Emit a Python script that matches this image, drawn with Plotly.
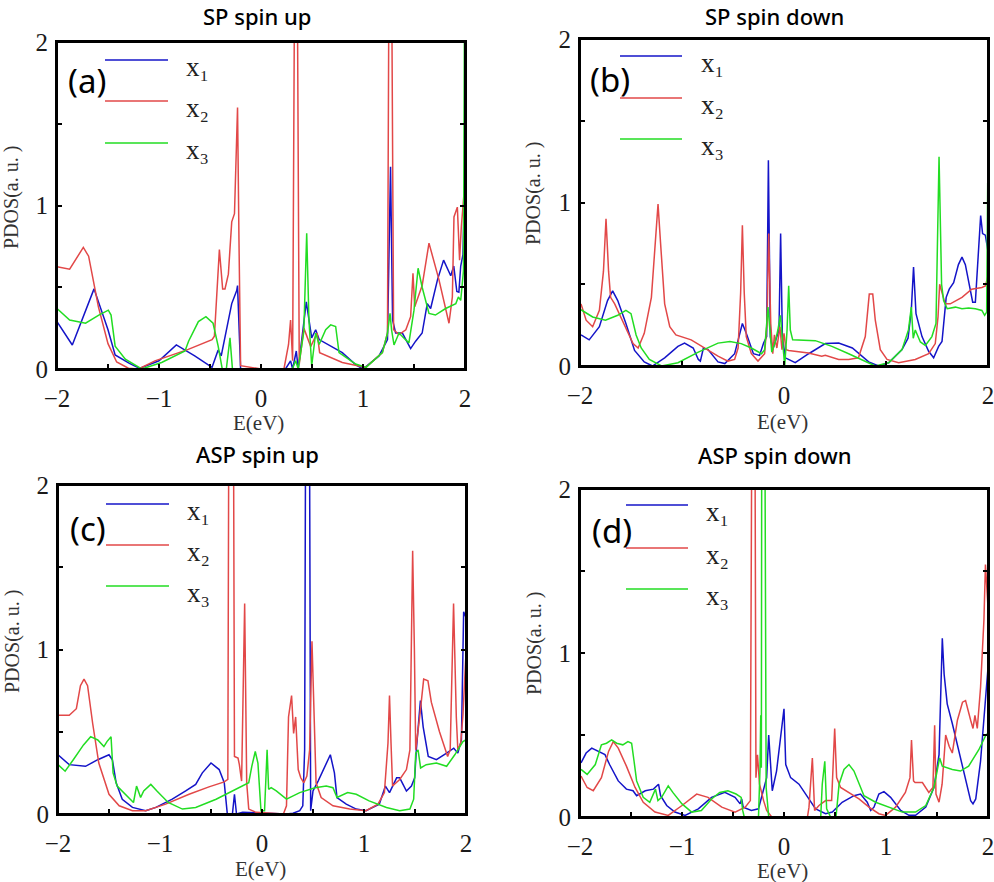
import plotly.graph_objects as go

# ---------------- data (E in eV, PDOS in a.u.) ----------------
# Panel (a) SP spin up
a_x1 = [(-2.0,0.29),(-1.85,0.147),(-1.637,0.49),(-1.5,0.24),(-1.43,0.086),(-1.29,0.034),(-1.19,0.004),(-1.0,0.05),
        (-0.83,0.147),(-0.65,0.08),(-0.48,0.01),(-0.42,0.116),(-0.39,0.08),(-0.287,0.40),(-0.238,0.48),(-0.23,0.51),
        (-0.2,0.0),(0.0,0.0),(0.24,0.0),(0.29,0.05),(0.31,0.0),(0.346,0.11),(0.365,0.0),(0.444,0.41),(0.497,0.19),
        (0.536,0.24),(0.57,0.18),(0.797,0.10),(0.93,0.025),(1.0,0.0),(1.157,0.08),(1.24,0.18),(1.27,1.237),(1.29,0.30),
        (1.32,0.22),(1.386,0.22),(1.467,0.125),(1.516,0.17),(1.58,0.22),(1.63,0.40),(1.663,0.37),(1.73,0.545),
        (1.79,0.666),(1.86,0.57),(1.89,0.63),(1.92,0.474),(1.94,0.47),(1.958,0.63),(1.98,0.7),(2.0,1.25)]
a_x2 = [(-2.0,0.626),(-1.876,0.61),(-1.742,0.744),(-1.69,0.69),(-1.594,0.38),(-1.5,0.155),(-1.415,0.043),(-1.3,0.005),
        (-1.2,0.0),(-1.04,0.05),(-0.713,0.12),(-0.48,0.18),(-0.457,0.2),(-0.424,0.544),(-0.408,0.73),(-0.376,0.49),
        (-0.353,0.49),(-0.32,0.58),(-0.287,0.90),(-0.26,0.95),(-0.23,1.60),(-0.216,0.79),(-0.2,0.02),(0.0,0.0),
        (0.225,0.0),(0.27,0.15),(0.29,0.30),(0.31,0.05),(0.33,2.5),(0.355,2.5),(0.375,0.03),(0.42,0.25),(0.487,0.137),
        (0.55,0.22),(0.575,0.1),(0.797,0.04),(1.027,0.01),(1.19,0.1),(1.24,0.22),(1.255,2.5),(1.28,2.5),(1.30,0.24),
        (1.353,0.21),(1.42,0.24),(1.467,0.32),(1.49,0.585),(1.507,0.38),(1.58,0.51),(1.647,0.77),(1.745,0.545),
        (1.843,0.28),(1.876,0.44),(1.892,0.93),(1.925,0.99),(1.947,0.666),(1.964,0.87),(2.0,1.15)]
a_x3 = [(-2.0,0.37),(-1.876,0.30),(-1.72,0.28),(-1.59,0.33),(-1.497,0.36),(-1.47,0.33),(-1.43,0.14),(-1.33,0.06),
        (-1.17,0.0),(-0.974,0.04),(-0.745,0.11),(-0.71,0.17),(-0.614,0.29),(-0.54,0.32),(-0.47,0.28),(-0.42,0.14),
        (-0.38,0.0),(-0.34,0.0),(-0.304,0.19),(-0.28,0.0),(0.0,0.0),(0.307,0.0),(0.34,0.05),(0.365,0.0),(0.42,0.23),
        (0.448,0.83),(0.47,0.30),(0.497,0.02),(0.536,0.22),(0.57,0.15),(0.634,0.24),(0.683,0.27),(0.732,0.26),
        (0.765,0.10),(0.928,0.03),(1.03,0.01),(1.19,0.1),(1.24,0.22),(1.265,0.34),(1.28,0.24),(1.304,0.147),
        (1.353,0.22),(1.40,0.19),(1.45,0.16),(1.5,0.36),(1.54,0.616),(1.58,0.5),(1.647,0.34),(1.71,0.33),
        (1.81,0.37),(1.91,0.40),(1.935,0.44),(1.958,0.42),(1.985,0.6),(1.997,2.5)]

# Panel (b) SP spin down
b_x1 = [(-1.99,0.19),(-1.91,0.16),(-1.81,0.24),(-1.73,0.40),(-1.68,0.459),(-1.63,0.40),(-1.55,0.26),(-1.465,0.095),
        (-1.37,0.025),(-1.29,0.0),(-1.17,0.05),(-1.04,0.12),(-0.975,0.14),(-0.89,0.11),(-0.84,0.04),(-0.82,0.03),
        (-0.79,0.11),(-0.745,0.10),(-0.647,0.025),(-0.58,0.015),(-0.484,0.075),(-0.408,0.26),(-0.37,0.20),
        (-0.30,0.075),(-0.24,0.065),(-0.20,0.14),(-0.17,0.18),(-0.153,1.258),(-0.134,0.18),(-0.11,0.1),
        (-0.075,0.17),(-0.049,0.22),(-0.033,0.81),(-0.016,0.18),(0.013,0.05),(0.11,0.02),(0.242,0.075),
        (0.405,0.137),(0.536,0.14),(0.67,0.11),(0.83,0.025),(0.928,0.0),(1.026,0.02),(1.157,0.10),(1.216,0.17),
        (1.248,0.34),(1.27,0.605),(1.294,0.32),(1.353,0.18),(1.418,0.09),(1.467,0.05),(1.516,0.12),(1.549,0.15),
        (1.59,0.42),(1.62,0.47),(1.663,0.51),(1.71,0.62),(1.745,0.666),(1.778,0.62),(1.81,0.51),(1.85,0.39),
        (1.876,0.39),(1.908,0.77),(1.928,0.92),(1.947,0.81),(1.974,0.80),(2.0,0.7)]
b_x2 = [(-1.99,0.38),(-1.94,0.28),(-1.876,0.24),(-1.81,0.34),(-1.77,0.58),(-1.745,0.90),(-1.72,0.58),(-1.70,0.42),
        (-1.66,0.38),(-1.63,0.34),(-1.56,0.24),(-1.48,0.137),(-1.43,0.11),(-1.37,0.20),(-1.30,0.42),(-1.26,0.79),
        (-1.235,0.99),(-1.21,0.75),(-1.17,0.38),(-1.12,0.24),(-1.06,0.19),(-0.91,0.16),(-0.78,0.11),(-0.647,0.06),
        (-0.55,0.03),(-0.484,0.04),(-0.45,0.11),(-0.425,0.45),(-0.408,0.86),(-0.39,0.45),(-0.37,0.18),(-0.32,0.075),
        (-0.255,0.03),(-0.19,0.075),(-0.167,0.26),(-0.15,0.81),(-0.13,0.26),(-0.11,0.075),(-0.094,0.19),
        (-0.07,0.11),(-0.04,0.24),(-0.02,0.10),(0.0,0.2),(0.02,0.1),(0.046,0.095),(0.24,0.08),(0.37,0.06),
        (0.405,0.065),(0.536,0.04),(0.634,0.04),(0.73,0.05),(0.797,0.18),(0.836,0.44),(0.87,0.44),(0.895,0.28),
        (0.944,0.10),(1.01,0.04),(1.124,0.02),(1.287,0.04),(1.418,0.075),(1.483,0.137),(1.51,0.30),(1.526,0.50),
        (1.55,0.44),(1.58,0.38),(1.63,0.38),(1.745,0.42),(1.84,0.47),(1.94,0.48),(1.974,0.49),(2.0,0.55)]
b_x3 = [(-1.99,0.344),(-1.876,0.30),(-1.75,0.28),(-1.63,0.31),(-1.55,0.34),(-1.50,0.32),(-1.45,0.19),(-1.40,0.11),
        (-1.32,0.04),(-1.20,0.0),(-1.04,0.02),(-0.84,0.085),(-0.647,0.14),(-0.53,0.15),(-0.42,0.137),(-0.32,0.11),
        (-0.22,0.075),(-0.19,0.10),(-0.157,0.36),(-0.14,0.24),(-0.12,0.085),(-0.09,0.137),(-0.06,0.22),
        (-0.036,0.31),(-0.02,0.18),(0.007,0.0),(0.03,0.22),(0.046,0.49),(0.062,0.22),(0.085,0.16),(0.307,0.155),
        (0.47,0.12),(0.634,0.075),(0.797,0.025),(0.895,0.0),(1.026,0.02),(1.157,0.10),(1.22,0.22),(1.248,0.36),
        (1.267,0.17),(1.287,0.22),(1.337,0.147),(1.386,0.125),(1.45,0.18),(1.49,0.26),(1.52,1.28),(1.545,0.5),
        (1.565,0.40),(1.6,0.35),(1.68,0.36),(1.745,0.35),(1.81,0.355),(1.876,0.35),(1.94,0.34),(1.967,0.31),
        (1.987,0.33),(1.997,1.12)]

# Panel (c) ASP spin up
c_x1 = [(-2.0,0.36),(-1.89,0.30),(-1.73,0.29),(-1.61,0.33),(-1.50,0.36),(-1.467,0.33),(-1.43,0.19),(-1.37,0.089),
        (-1.27,0.04),(-1.14,0.02),(-1.04,0.04),(-0.88,0.09),(-0.748,0.14),(-0.65,0.18),(-0.585,0.25),(-0.50,0.31),
        (-0.42,0.27),(-0.37,0.19),(-0.34,0.0),(-0.29,0.0),(-0.27,0.12),(-0.25,0.0),(-0.19,0.01),(0.24,0.0),
        (0.304,0.005),(0.37,0.02),(0.40,0.05),(0.418,0.39),(0.428,2.5),(0.465,2.5),(0.477,0.02),(0.50,0.14),
        (0.55,0.2),(0.61,0.28),(0.67,0.36),(0.71,0.25),(0.735,0.10),(0.826,0.06),(0.924,0.03),(1.02,0.02),
        (1.15,0.06),(1.21,0.17),(1.25,0.13),(1.32,0.22),(1.35,0.22),(1.416,0.14),(1.465,0.17),(1.497,0.22),
        (1.513,0.39),(1.553,0.69),(1.58,0.53),(1.63,0.35),(1.71,0.33),(1.81,0.37),(1.88,0.40),(1.92,0.37),
        (1.955,0.45),(1.977,1.23),(1.997,1.2)]
c_x2 = [(-2.0,0.60),(-1.89,0.60),(-1.82,0.64),(-1.78,0.78),(-1.745,0.82),(-1.71,0.78),(-1.66,0.55),(-1.60,0.31),
        (-1.50,0.12),(-1.40,0.05),(-1.27,0.02),(-1.14,0.02),(-0.945,0.06),(-0.715,0.12),(-0.52,0.165),(-0.37,0.195),
        (-0.335,0.21),(-0.325,2.5),(-0.28,2.5),(-0.27,0.35),(-0.235,0.34),(-0.222,0.30),(-0.20,0.2),(-0.17,1.28),
        (-0.15,0.19),(-0.13,0.03),(-0.06,0.01),(0.21,0.0),(0.24,0.05),(0.26,0.59),(0.29,0.72),(0.31,0.49),
        (0.33,0.59),(0.355,0.27),(0.38,0.22),(0.41,0.19),(0.44,0.23),(0.467,0.39),(0.49,1.05),(0.51,0.60),
        (0.53,0.19),(0.58,0.10),(0.696,0.05),(0.86,0.03),(1.02,0.02),(1.137,0.06),(1.2,0.13),(1.235,0.43),
        (1.25,0.72),(1.265,0.43),(1.28,0.17),(1.35,0.21),(1.416,0.27),(1.45,0.39),(1.465,1.0),(1.477,1.60),
        (1.494,1.0),(1.507,0.39),(1.546,0.59),(1.585,0.82),(1.627,0.81),(1.66,0.68),(1.74,0.5),(1.82,0.35),
        (1.845,0.39),(1.862,0.86),(1.878,1.28),(1.905,0.59),(1.92,0.39),(1.948,0.43),(1.97,0.6),(1.997,0.94)]
c_x3 = [(-2.0,0.30),(-1.93,0.26),(-1.85,0.33),(-1.75,0.42),(-1.68,0.47),(-1.61,0.45),(-1.55,0.41),(-1.52,0.44),
        (-1.48,0.47),(-1.46,0.25),(-1.42,0.17),(-1.34,0.12),(-1.26,0.07),(-1.23,0.17),(-1.19,0.10),(-1.16,0.14),
        (-1.09,0.18),(-1.03,0.14),(-0.92,0.07),(-0.78,0.03),(-0.65,0.04),(-0.45,0.09),(-0.26,0.15),(-0.13,0.19),
        (-0.1,0.29),(-0.066,0.38),(-0.04,0.31),(-0.01,0.02),(0.025,0.02),(0.05,0.39),(0.065,0.15),(0.09,0.16),
        (0.14,0.14),(0.24,0.09),(0.37,0.13),(0.52,0.16),(0.63,0.17),(0.696,0.16),(0.735,0.10),(0.84,0.13),
        (0.924,0.12),(1.05,0.08),(1.22,0.04),(1.35,0.02),(1.45,0.03),(1.487,0.09),(1.507,0.37),(1.53,0.39),
        (1.555,0.28),(1.61,0.30),(1.71,0.31),(1.81,0.29),(1.89,0.36),(1.97,0.44),(1.997,0.45)]

# Panel (d) ASP spin down
d_x1 = [(-1.99,0.33),(-1.94,0.39),(-1.885,0.42),(-1.82,0.40),(-1.755,0.38),(-1.71,0.32),(-1.625,0.22),(-1.545,0.17),
        (-1.48,0.16),(-1.445,0.13),(-1.36,0.16),(-1.28,0.17),(-1.23,0.20),(-1.21,0.13),(-1.15,0.07),(-1.07,0.03),
        (-0.97,0.01),(-0.84,0.05),(-0.71,0.12),(-0.58,0.15),(-0.48,0.12),(-0.43,0.08),(-0.415,0.11),(-0.40,0.06),
        (-0.32,0.04),(-0.25,0.05),(-0.20,0.16),(-0.17,0.24),(-0.15,0.50),(-0.13,0.26),(-0.115,0.16),(-0.073,0.28),
        (-0.023,0.53),(0.0,0.66),(0.017,0.32),(0.065,0.24),(0.147,0.20),(0.245,0.11),(0.31,0.05),(0.408,0.02),
        (0.474,0.03),(0.57,0.09),(0.686,0.13),(0.75,0.14),(0.816,0.09),(0.85,0.04),(0.882,0.06),(0.93,0.14),
        (0.98,0.155),(1.045,0.12),(1.144,0.04),(1.225,0.01),(1.29,0.01),(1.39,0.06),(1.47,0.18),(1.52,0.38),
        (1.536,0.75),(1.552,1.09),(1.57,0.87),(1.6,0.69),(1.65,0.57),(1.715,0.40),(1.78,0.22),(1.83,0.10),
        (1.853,0.08),(1.88,0.11),(1.927,0.34),(1.975,0.69),(2.0,0.91)]
d_x2 = [(-1.99,0.25),(-1.93,0.18),(-1.87,0.16),(-1.79,0.24),(-1.72,0.40),(-1.674,0.46),(-1.625,0.42),(-1.545,0.31),
        (-1.46,0.18),(-1.38,0.09),(-1.265,0.03),(-1.135,0.01),(-1.0,0.07),(-0.856,0.14),(-0.745,0.12),(-0.61,0.06),
        (-0.48,0.03),(-0.38,0.06),(-0.33,0.10),(-0.315,2.5),(-0.285,2.5),(-0.275,0.24),(-0.26,0.38),(-0.24,0.20),
        (-0.20,0.10),(-0.17,0.04),(-0.12,0.0),(0.23,0.0),(0.245,0.06),(0.278,0.36),(0.3,0.04),(0.343,0.07),
        (0.408,0.10),(0.467,0.10),(0.497,0.54),(0.516,0.24),(0.555,0.18),(0.637,0.15),(0.735,0.11),(0.833,0.06),
        (0.93,0.02),(0.996,0.01),(1.094,0.06),(1.19,0.15),(1.235,0.24),(1.25,0.47),(1.27,0.22),(1.285,0.21),
        (1.357,0.21),(1.42,0.15),(1.46,0.18),(1.477,0.56),(1.49,0.14),(1.52,0.09),(1.55,0.20),(1.585,0.50),
        (1.62,0.43),(1.65,0.39),(1.70,0.59),(1.75,0.70),(1.78,0.71),(1.83,0.59),(1.853,0.54),(1.872,0.62),
        (1.895,0.54),(1.927,0.79),(1.96,1.2),(1.975,1.54),(1.998,1.3)]
d_x3 = [(-1.99,0.29),(-1.93,0.26),(-1.85,0.32),(-1.79,0.44),(-1.74,0.45),(-1.69,0.47),(-1.64,0.45),(-1.58,0.44),
        (-1.53,0.46),(-1.494,0.45),(-1.47,0.34),(-1.445,0.22),(-1.38,0.12),(-1.316,0.09),(-1.26,0.17),(-1.236,0.10),
        (-1.2,0.12),(-1.135,0.19),(-1.09,0.15),(-1.0,0.08),(-0.905,0.03),(-0.81,0.04),(-0.71,0.11),(-0.63,0.15),
        (-0.55,0.16),(-0.47,0.14),(-0.42,0.12),(-0.405,0.04),(-0.39,0.0),(-0.25,0.0),(-0.235,0.3),(-0.228,0.62),
        (-0.222,0.3),(-0.218,2.5),(-0.188,2.5),(-0.175,0.18),(-0.15,0.0),(0.36,0.0),(0.375,0.2),(0.40,0.34),
        (0.418,0.05),(0.457,0.0),(0.51,0.0),(0.54,0.2),(0.588,0.29),(0.637,0.32),(0.686,0.28),(0.735,0.20),
        (0.784,0.13),(0.898,0.09),(1.028,0.06),(1.16,0.03),(1.29,0.03),(1.39,0.07),(1.47,0.18),(1.503,0.28),
        (1.526,0.36),(1.552,0.31),(1.65,0.29),(1.73,0.28),(1.81,0.31),(1.91,0.41),(1.98,0.50),(2.0,0.51)]

series_names = ["x\u2081", "x\u2082", "x\u2083"]
panel_titles = ["SP spin up", "SP spin down", "ASP spin up", "ASP spin down"]
panel_tags = ["(a)", "(b)", "(c)", "(d)"]
x_title = "E(eV)"
y_title = "PDOS(a. u. )"
y_tickvals = [0, 1, 2]

panels_data = [[a_x1, a_x2, a_x3], [b_x1, b_x2, b_x3], [c_x1, c_x2, c_x3], [d_x1, d_x2, d_x3]]

# ---------------- styling / layout ----------------
W, H = 994, 882
colors = ["#1414C8", "#E24848", "#22DD22"]


def px(x):
    return x / W


def py(y):
    return 1 - y / H


# plot boxes in pixels: (left, right, top, bottom)
boxes = [(57, 465, 42, 369), (580, 988, 39, 366), (58, 466, 485, 814), (580, 988, 489, 817)]
x_major = [1, 2, 1, 1]
x_minor = [0.5, 1, 0.5, 0.5]
title_pos = [(257, 16), (774, 16.5), (257, 454), (775, 455)]
xt_pos = [(258, 423), (782, 422), (260, 869), (782, 871)]
yt_pos = [(11, 198), (534, 194), (12, 642), (534, 644)]
tag_pos = [(87, 81), (610, 79), (88, 528), (612, 530)]
leg = [(105, 168, [60, 101, 143], 184), (620, 682, [56, 98, 139], 699),
       (106, 169, [504, 545, 586], 185), (626, 688, [505, 548, 589], 704)]

fig = go.Figure()
layout = dict(width=W, height=H, margin=dict(l=0, r=0, t=0, b=0),
              paper_bgcolor="white", plot_bgcolor="white", showlegend=False)
annotations = []
shapes = []
tickfont = dict(family="Liberation Serif", size=25, color="#1a1a1a")

for i, data in enumerate(panels_data):
    k = "" if i == 0 else str(i + 1)
    L, R, T, B = boxes[i]
    for j, ser in enumerate(data):
        fig.add_trace(go.Scatter(
            x=[p[0] for p in ser], y=[p[1] for p in ser], mode="lines",
            line=dict(color=colors[j], width=1.5), name=series_names[j],
            xaxis="x" + k, yaxis="y" + k, hoverinfo="skip"))
    layout["xaxis" + k] = dict(
        domain=[px(L), px(R)], range=[-2, 2], anchor="y" + k,
        tickmode="linear", tick0=-2, dtick=x_major[i],
        ticks="inside", ticklen=5, tickwidth=1.5, tickcolor="black",
        minor=dict(ticks="inside", dtick=x_minor[i], tick0=-2, ticklen=5, tickwidth=1.5, tickcolor="black"),
        showline=True, linecolor="black", linewidth=2, mirror=True,
        showgrid=False, zeroline=False, tickfont=tickfont, automargin=False,
        ticklabelstandoff=6, ticklabeloverflow="allow")
    layout["yaxis" + k] = dict(
        domain=[py(B), py(T)], range=[0, 2], anchor="x" + k,
        tickmode="array", tickvals=y_tickvals,
        ticks="inside", ticklen=5, tickwidth=1.5, tickcolor="black",
        minor=dict(ticks="inside", dtick=0.5, tick0=0, ticklen=5, tickwidth=1.5, tickcolor="black"),
        showline=True, linecolor="black", linewidth=2, mirror="ticks",
        showgrid=False, zeroline=False, tickfont=tickfont, automargin=False,
        ticklabelstandoff=2, ticklabeloverflow="allow")
    # plot frame
    shapes.append(dict(type="rect", xref="x" + k + " domain", yref="y" + k + " domain",
                       x0=0, x1=1, y0=0, y1=1, layer="above",
                       line=dict(color="black", width=2), fillcolor="rgba(0,0,0,0)"))
    # titles
    tx, ty = title_pos[i]
    annotations.append(dict(text=panel_titles[i], x=px(tx), y=py(ty), xref="paper", yref="paper",
                            showarrow=False, xanchor="center", yanchor="middle",
                            font=dict(family="Noto Sans", size=22, color="black", weight=500)))
    ax, ay = xt_pos[i]
    annotations.append(dict(text=x_title, x=px(ax), y=py(ay), xref="paper", yref="paper",
                            showarrow=False, xanchor="center", yanchor="middle",
                            font=dict(family="Liberation Serif", size=21, color="#333333")))
    bx, by = yt_pos[i]
    annotations.append(dict(text=y_title, x=px(bx), y=py(by), xref="paper", yref="paper",
                            showarrow=False, xanchor="center", yanchor="middle", textangle=-90,
                            font=dict(family="Liberation Serif", size=20, color="#333333")))
    gx, gy = tag_pos[i]
    annotations.append(dict(text=panel_tags[i], x=px(gx), y=py(gy), xref="paper", yref="paper",
                            showarrow=False, xanchor="center", yanchor="middle",
                            font=dict(family="Noto Sans", size=33, color="black")))
    # legend keys
    lx0, lx1, lys, lab = leg[i]
    for j in range(3):
        shapes.append(dict(type="line", xref="paper", yref="paper",
                           x0=px(lx0), x1=px(lx1), y0=py(lys[j]), y1=py(lys[j]),
                           line=dict(color=colors[j], width=1.5)))
        annotations.append(dict(text=series_names[j], x=px(lab), y=py(lys[j] + 7), xref="paper", yref="paper",
                                showarrow=False, xanchor="left", yanchor="middle",
                                font=dict(family="Liberation Serif", size=27, color="#222222")))

layout["annotations"] = annotations
layout["shapes"] = shapes
fig.update_layout(**layout)
fig.write_html("out.html", config={"displayModeBar": False},
               post_script="document.body.style.margin='0';document.body.style.overflow='hidden';")
